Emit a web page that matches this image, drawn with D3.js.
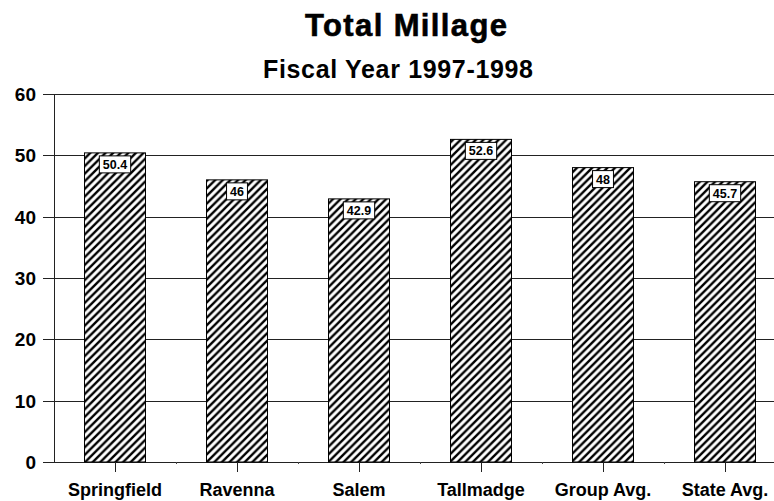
<!DOCTYPE html>
<html>
<head>
<meta charset="utf-8">
<script src="https://cdn.jsdelivr.net/npm/d3@7"></script>
<style>
  html, body { margin: 0; padding: 0; background: #fff; }
  svg { display: block; font-family: Arial, "Liberation Sans", Helvetica, sans-serif; }
</style>
</head>
<body>
<svg id="chart" width="774" height="501"></svg>
<script>
// Total millage by district, fiscal year 1997-1998
const categories = ["Springfield", "Ravenna", "Salem", "Tallmadge", "Group Avg.", "State Avg."];
const millage = [50.4, 46, 42.9, 52.6, 48, 45.7];
const valueLabels = ["50.4", "46", "42.9", "52.6", "48", "45.7"];
const yTicks = [0, 10, 20, 30, 40, 50, 60];

const svg = d3.select("#chart");

// hatch fill for the bars
const P = 7.6;
const defs = svg.append("defs");
const pat = defs.append("pattern")
  .attr("id", "hatch")
  .attr("patternUnits", "userSpaceOnUse")
  .attr("width", P).attr("height", P);
pat.append("rect").attr("width", P).attr("height", P).attr("fill", "#fff");
pat.append("path")
  .attr("d", `M-1,1 L1,-1 M0,${P} L${P},0 M${P - 1},${P + 1} L${P + 1},${P - 1}`)
  .attr("stroke", "#000").attr("stroke-width", 2.4);

const plotLeft = 54, plotRight = 786, plotTop = 94, plotBottom = 462;

const x = d3.scaleBand()
  .domain(categories)
  .range([plotLeft, plotRight])
  .paddingInner(0.5)
  .paddingOuter(0.25);

const y = d3.scaleLinear().domain([0, 60]).range([plotBottom, plotTop]);

// titles
svg.append("text")
  .attr("x", 406).attr("y", 36)
  .attr("text-anchor", "middle")
  .attr("textLength", 202).attr("lengthAdjust", "spacing")
  .style("font-size", "31px").style("font-weight", "bold")
  .style("stroke", "#000").style("stroke-width", 0.6)
  .text("Total Millage");
svg.append("text")
  .attr("x", 398).attr("y", 78)
  .attr("text-anchor", "middle")
  .attr("textLength", 270).attr("lengthAdjust", "spacing")
  .style("font-size", "25px").style("font-weight", "bold")
  .text("Fiscal Year 1997-1998");

// horizontal gridlines with left tick stubs
svg.append("g").selectAll("line")
  .data(yTicks)
  .join("line")
  .attr("x1", 43).attr("x2", 774)
  .attr("y1", d => Math.round(y(d)) + 0.5)
  .attr("y2", d => Math.round(y(d)) + 0.5)
  .attr("stroke", "#222").attr("stroke-width", 1);

// y tick labels
svg.append("g").selectAll("text")
  .data(yTicks)
  .join("text")
  .attr("x", 36)
  .attr("y", d => y(d) + 7)
  .attr("text-anchor", "end")
  .style("font-size", "19px").style("font-weight", "bold")
  .text(d => d);

// y axis line
svg.append("line")
  .attr("x1", plotLeft + 0.5).attr("x2", plotLeft + 0.5)
  .attr("y1", y(60)).attr("y2", y(0))
  .attr("stroke", "#222");

// bars
svg.append("g").selectAll("rect")
  .data(millage)
  .join("rect")
  .attr("x", (d, i) => x(categories[i]))
  .attr("y", d => y(d))
  .attr("width", x.bandwidth())
  .attr("height", d => y(0) - y(d))
  .attr("fill", "url(#hatch)")
  .attr("stroke", "#000").attr("stroke-width", 1);

// category ticks under the baseline
svg.append("g").selectAll("line")
  .data(categories)
  .join("line")
  .attr("x1", d => Math.round(x(d) + x.bandwidth() / 2) + 0.5)
  .attr("x2", d => Math.round(x(d) + x.bandwidth() / 2) + 0.5)
  .attr("y1", y(0)).attr("y2", y(0) + 10)
  .attr("stroke", "#222");

// small marks at band boundaries
const gap = (x.step() - x.bandwidth()) / 2;
svg.append("g").selectAll("line")
  .data(categories.slice(1))
  .join("line")
  .attr("x1", d => Math.round(x(d) - gap) + 0.5)
  .attr("x2", d => Math.round(x(d) - gap) + 0.5)
  .attr("y1", y(0)).attr("y2", y(0) + 2)
  .attr("stroke", "#444");

// category labels
svg.append("g").selectAll("text")
  .data(categories)
  .join("text")
  .attr("x", d => x(d) + x.bandwidth() / 2)
  .attr("y", 496)
  .attr("text-anchor", "middle")
  .style("font-size", "18px").style("font-weight", "bold")
  .text(d => d);

// boxed value labels at the top of each bar
const lbl = svg.append("g").selectAll("g")
  .data(millage)
  .join("g")
  .attr("transform", (d, i) => `translate(${x(categories[i]) + x.bandwidth() / 2},${y(d) + 3})`);
lbl.each(function(d, i) {
  const g = d3.select(this);
  const t = g.append("text")
    .attr("x", 0).attr("y", 13)
    .attr("text-anchor", "middle")
    .style("font-size", "12.5px").style("font-weight", "bold")
    .text(valueLabels[i]);
  const w = t.node().getComputedTextLength() + 7;
  g.insert("rect", "text")
    .attr("x", -w / 2).attr("y", 0)
    .attr("width", w).attr("height", 17)
    .attr("fill", "#fff").attr("stroke", "#000").attr("stroke-width", 1);
});
</script>
</body>
</html>
